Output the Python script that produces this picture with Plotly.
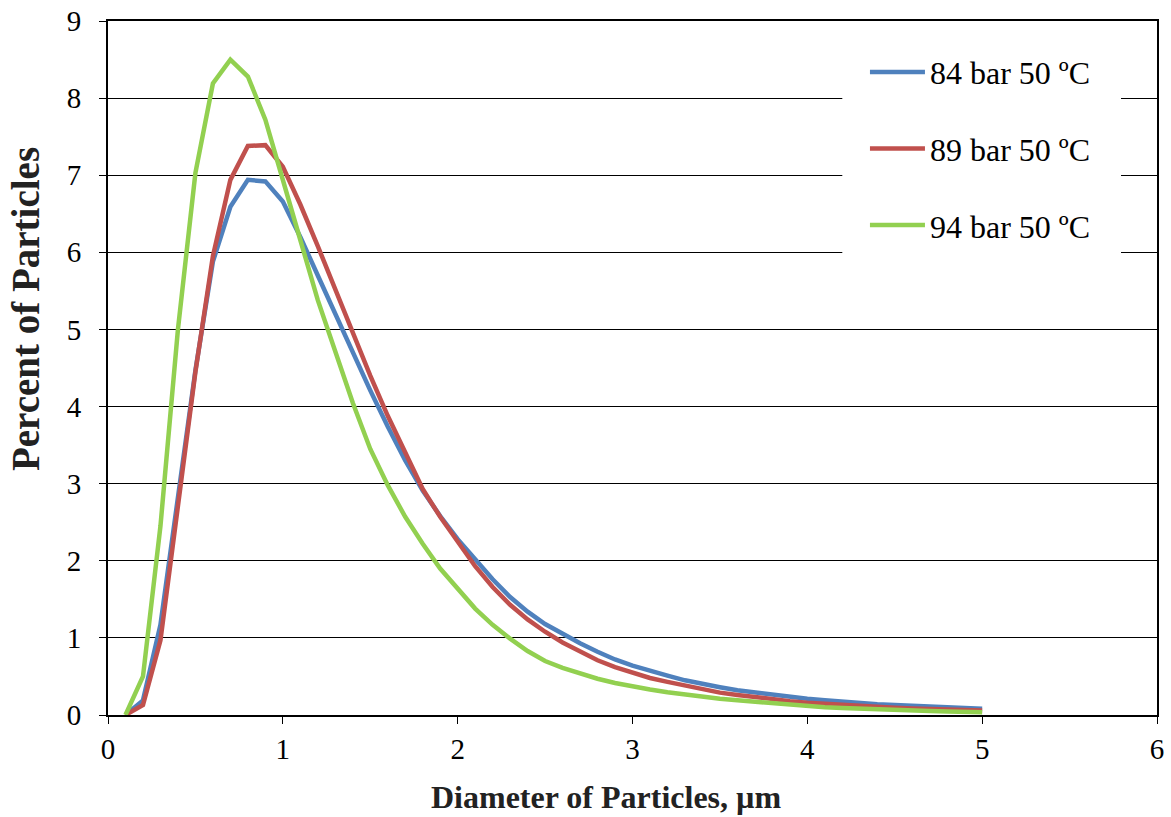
import plotly.graph_objects as go

diameter = [round(0.1 * i, 1) for i in range(1, 51)]

p84 = [0, 0.19, 1.17, 2.85, 4.47, 5.88, 6.59, 6.94, 6.92, 6.66,
       6.20, 5.70, 5.20, 4.70, 4.21, 3.74, 3.30, 2.91, 2.58, 2.28,
       2.01, 1.76, 1.53, 1.34, 1.18, 1.05, 0.93, 0.82, 0.72, 0.64,
       0.57, 0.51, 0.45, 0.40, 0.36, 0.32, 0.29, 0.26, 0.23, 0.21,
       0.19, 0.17, 0.155, 0.14, 0.13, 0.12, 0.11, 0.10, 0.09, 0.08]

p89 = [0, 0.13, 0.97, 2.75, 4.45, 5.95, 6.94, 7.38, 7.39, 7.11,
       6.62, 6.08, 5.52, 4.95, 4.40, 3.88, 3.39, 2.93, 2.57, 2.24,
       1.93, 1.66, 1.43, 1.24, 1.08, 0.94, 0.82, 0.71, 0.62, 0.55,
       0.48, 0.43, 0.38, 0.33, 0.29, 0.26, 0.23, 0.20, 0.18, 0.16,
       0.145, 0.13, 0.115, 0.105, 0.095, 0.085, 0.077, 0.07, 0.063, 0.057]

p94 = [0, 0.50, 2.45, 5.0, 7.03, 8.19, 8.50, 8.28, 7.72, 6.92,
       6.16, 5.38, 4.73, 4.05, 3.45, 2.98, 2.57, 2.22, 1.90, 1.63,
       1.38, 1.17, 0.99, 0.83, 0.70, 0.61, 0.535, 0.47, 0.415, 0.37,
       0.33, 0.295, 0.265, 0.237, 0.212, 0.19, 0.17, 0.15, 0.13, 0.115,
       0.10, 0.09, 0.08, 0.072, 0.065, 0.058, 0.052, 0.047, 0.042, 0.037]

series_names = ["84 bar 50 ºC", "89 bar 50 ºC", "94 bar 50 ºC"]
series_values = [p84, p89, p94]
series_colors = ["#4F81BD", "#C0504D", "#92D050"]

x_ticks = [0, 1, 2, 3, 4, 5, 6]
y_ticks = [0, 1, 2, 3, 4, 5, 6, 7, 8, 9]

x_title = "Diameter of Particles, µm"
y_title = "Percent of Particles"

FONT = "Liberation Serif"

fig = go.Figure()
for i, (name, vals, col) in enumerate(zip(series_names, series_values, series_colors)):
    fig.add_trace(go.Scatter(
        x=diameter, y=vals, mode="lines", name=name,
        line=dict(color=col, width=4.5), legendgroup=f"g{i}",
    ))

fig.update_layout(
    width=1171, height=817,
    margin=dict(l=108, r=14, t=21, b=102, autoexpand=False),
    paper_bgcolor="white", plot_bgcolor="white",
    font=dict(family=FONT, color="black", size=28),
    showlegend=True,
    legend=dict(
        x=0.7216, y=0.966, xanchor="left", yanchor="top",
        bgcolor="white", borderwidth=0,
        font=dict(family=FONT, size=32, color="black"),
        tracegroupgap=32, itemwidth=55,
    ),
    shapes=[
        # white backing of the legend box (hides gridlines behind it)
        dict(type="rect", xref="paper", yref="paper",
             x0=0.700, x1=0.9657, y0=0.6614, y1=0.9726,
             fillcolor="white", line=dict(width=0), layer="above"),
    ],
    xaxis=dict(
        range=[0, 6], tickvals=x_ticks, ticktext=[str(v) for v in x_ticks],
        showgrid=False, zeroline=False, automargin=False,
        showline=True, linecolor="black", linewidth=2, mirror=True,
        ticks="outside", ticklen=7, tickcolor="black", tickwidth=1,
        tickfont=dict(family=FONT, size=29, color="black"),
    ),
    yaxis=dict(
        range=[0, 9], tickvals=y_ticks, ticktext=[str(v) for v in y_ticks],
        showgrid=True, gridcolor="black", gridwidth=1, zeroline=False, automargin=False,
        showline=True, linecolor="black", linewidth=2, mirror=True,
        ticks="outside", ticklen=7, tickcolor="black", tickwidth=1,
        ticklabelstandoff=12,
        tickfont=dict(family=FONT, size=29, color="black"),
    ),
    annotations=[
        dict(text=f"<b>{x_title}</b>", xref="paper", yref="paper",
             x=0.4747, y=-0.118, xanchor="center", yanchor="middle",
             showarrow=False, font=dict(family=FONT, size=32, color="#222")),
        dict(text=f"<b>{y_title}</b>", xref="paper", yref="paper",
             x=-0.0791, y=0.585, xanchor="center", yanchor="middle", textangle=-90,
             showarrow=False, font=dict(family=FONT, size=39, color="#222")),
    ],
)

fig.write_html("out.html")
